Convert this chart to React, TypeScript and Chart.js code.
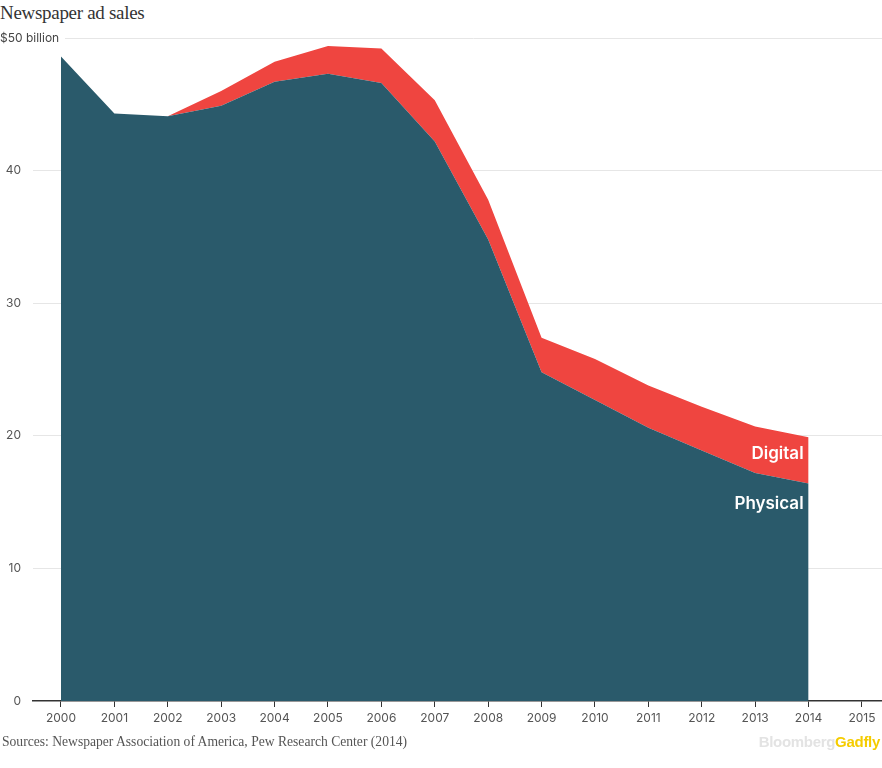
import React, { useEffect, useRef } from "react";
import { Chart, registerables } from "chart.js";

Chart.register(...registerables);

const years = [2000, 2001, 2002, 2003, 2004, 2005, 2006, 2007, 2008, 2009, 2010, 2011, 2012, 2013, 2014];
const physical = [48.6, 44.3, 44.1, 44.9, 46.7, 47.3, 46.6, 42.2, 34.8, 24.8, 22.7, 20.6, 18.9, 17.2, 16.4];
const digital = [0, 0, 0, 1.1, 1.5, 2.1, 2.6, 3.1, 3.0, 2.6, 3.1, 3.2, 3.3, 3.5, 3.5];
const xTicks = [2000, 2001, 2002, 2003, 2004, 2005, 2006, 2007, 2008, 2009, 2010, 2011, 2012, 2013, 2014, 2015];
const yTicks = [0, 10, 20, 30, 40, 50];
const topLabel = "$50 billion";
const seriesLabels = ["Physical", "Digital"];
const labelAnchors = [14.9, 18.6];

const TEAL = "#2a5a6b";
const RED = "#ef4540";
const FONT = "Inter, 'Noto Sans', sans-serif";

const overlayPlugin = {
  id: "overlay",
  beforeDatasetsDraw(chart: any) {
    const { ctx, chartArea, scales } = chart;
    const y = scales.y;
    const py = y.getPixelForValue(50);
    ctx.save();
    ctx.strokeStyle = "#e6e6e6";
    ctx.lineWidth = 1;
    ctx.beginPath();
    ctx.moveTo(65, Math.round(py) + 0.5);
    ctx.lineTo(chartArea.right, Math.round(py) + 0.5);
    ctx.stroke();
    ctx.fillStyle = "#444";
    ctx.font = "12px " + FONT;
    ctx.textAlign = "left";
    ctx.textBaseline = "middle";
    ctx.fillText(topLabel, 0, py);
    ctx.restore();
  },
  afterDatasetsDraw(chart: any) {
    const { ctx, scales } = chart;
    const x = scales.x.getPixelForValue(years[years.length - 1]) - 5;
    ctx.save();
    ctx.fillStyle = "#ffffff";
    ctx.font = "600 17px " + FONT;
    ctx.textAlign = "right";
    ctx.textBaseline = "middle";
    ctx.fillText(seriesLabels[0], x, scales.y.getPixelForValue(labelAnchors[0]));
    ctx.fillText(seriesLabels[1], x, scales.y.getPixelForValue(labelAnchors[1]));
    ctx.restore();
  },
};

export default function App() {
  const ref = useRef<HTMLCanvasElement | null>(null);
  useEffect(() => {
    if (!ref.current) return;
    const chart = new Chart(ref.current, {
      type: "line",
      data: {
        datasets: [
          {
            label: seriesLabels[0],
            data: years.map((yr, i) => ({ x: yr, y: physical[i] })),
            backgroundColor: TEAL,
            borderColor: TEAL,
            borderWidth: 0,
            pointRadius: 0,
            fill: "origin",
            tension: 0,
          },
          {
            label: seriesLabels[1],
            data: years.map((yr, i) => ({ x: yr, y: digital[i] })),
            backgroundColor: RED,
            borderColor: RED,
            borderWidth: 0,
            pointRadius: 0,
            fill: "-1",
            tension: 0,
          },
        ],
      },
      options: {
        animation: false,
        responsive: true,
        maintainAspectRatio: false,
        layout: { padding: { top: 38, bottom: 38.6, left: 0, right: 0 } },
        plugins: { legend: { display: false }, tooltip: { enabled: false } },
        scales: {
          x: {
            type: "linear",
            min: 1999.476,
            max: 2015.375,
            afterBuildTicks: (s: any) => {
              s.ticks = xTicks.map((v) => ({ value: v }));
            },
            ticks: {
              callback: (v: any) => String(v),
              color: "#555",
              font: { family: FONT, size: 12 },
              padding: 4,
              maxRotation: 0,
              autoSkip: false,
            },
            grid: { drawOnChartArea: false, drawTicks: true, tickLength: 6, color: "#333", lineWidth: 1 },
            border: { display: true, color: "#333", width: 1.5 },
          },
          y: {
            stacked: true,
            min: 0,
            max: 50,
            afterBuildTicks: (s: any) => {
              s.ticks = yTicks.map((v) => ({ value: v }));
            },
            afterFit: (s: any) => {
              s.width = 33;
            },
            ticks: {
              callback: (v: any) => (v === 50 ? "" : String(v)),
              color: "#555",
              font: { family: FONT, size: 12 },
              padding: 12,
            },
            grid: {
              drawTicks: false,
              color: (c: any) => (c.tick && (c.tick.value === 0 || c.tick.value === 50) ? "rgba(0,0,0,0)" : "#e6e6e6"),
              lineWidth: 1,
            },
            border: { display: false },
          },
        },
      },
      plugins: [overlayPlugin],
    } as any);
    return () => chart.destroy();
  }, []);

  return (
    <div style={{ position: "absolute", left: 0, top: 0, width: 882, height: 768, background: "#fff" }}>
      <div
        style={{
          position: "absolute",
          left: 0,
          top: 2,
          fontFamily: "'Liberation Serif', serif",
          fontSize: 19,
          color: "#333",
          letterSpacing: -0.3,
          whiteSpace: "nowrap",
        }}
      >
        Newspaper ad sales
      </div>
      <div style={{ position: "absolute", left: 0, top: 0, width: 882, height: 768 }}>
        <canvas ref={ref} />
      </div>
      <div
        style={{
          position: "absolute",
          left: 2,
          top: 734,
          fontFamily: "'Liberation Serif', serif",
          fontSize: 13.6,
          color: "#555",
          whiteSpace: "nowrap",
        }}
      >
        Sources: Newspaper Association of America, Pew Research Center (2014)
      </div>
      <div
        style={{
          position: "absolute",
          right: 2,
          top: 733,
          fontFamily: "'Liberation Sans Narrow', 'Liberation Sans', Arial, sans-serif",
          fontWeight: 700,
          fontSize: 15,
          letterSpacing: -0.3,
          whiteSpace: "nowrap",
        }}
      >
        <span style={{ color: "#e3e3e3" }}>Bloomberg</span>
        <span style={{ color: "#f5cc00" }}>Gadfly</span>
      </div>
    </div>
  );
}
